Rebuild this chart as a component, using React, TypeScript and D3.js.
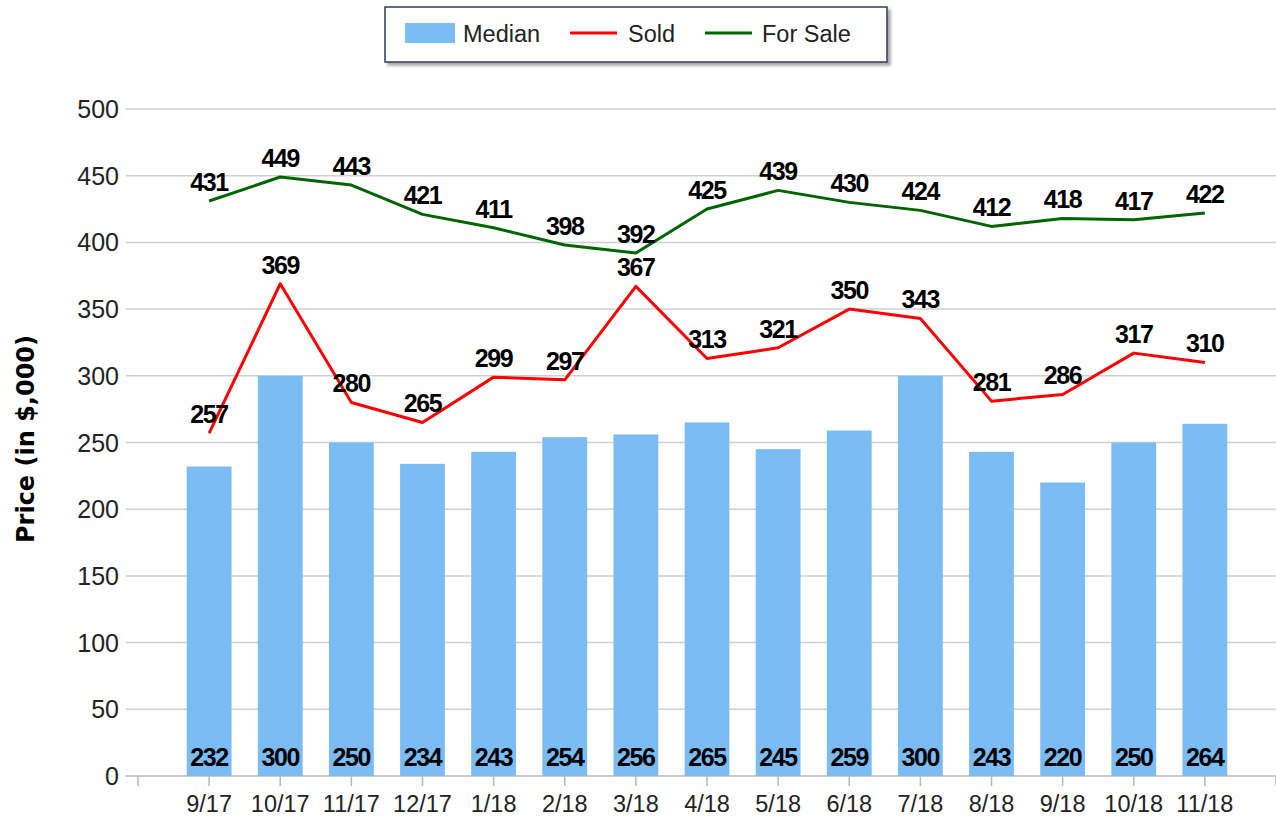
import React from "react";
import * as d3 from "d3";

const categories = ["9/17","10/17","11/17","12/17","1/18","2/18","3/18","4/18","5/18","6/18","7/18","8/18","9/18","10/18","11/18"];
const median = [232,300,250,234,243,254,256,265,245,259,300,243,220,250,264];
const sold = [257,369,280,265,299,297,367,313,321,350,343,281,286,317,310];
const forSale = [431,449,443,421,411,398,392,425,439,430,424,412,418,417,422];
const yTicks = [0,50,100,150,200,250,300,350,400,450,500];

const W = 1276, H = 818;
const FONT = "'Liberation Sans', Arial, sans-serif";

export default function App() {
  const x = d3.scaleLinear().domain([0, 16]).range([138, 1276]);
  const y = d3.scaleLinear().domain([0, 500]).range([776, 109]);
  const step = x(1) - x(0);
  const bw = step * 0.63;
  const line = d3.line<number>().x((_, i) => x(i + 1)).y((d) => y(d));
  const labelStyle: React.CSSProperties = { fontFamily: FONT, fontWeight: "bold", fontSize: 25, letterSpacing: -1.4 };
  return (
    <svg width={W} height={H} style={{ position: "absolute", left: 0, top: 0, background: "#fff" }}>
      <defs>
        <filter id="sh" x="-5%" y="-20%" width="115%" height="160%">
          <feDropShadow dx="3" dy="3" stdDeviation="1.5" floodColor="#000" floodOpacity="0.35" />
        </filter>
      </defs>
      {yTicks.map((t) => (
        <g key={t}>
          <line x1={126} x2={1276} y1={y(t)} y2={y(t)} stroke={t === 0 ? "#b8b8b8" : "#d0d0d0"} strokeWidth={1.5} />
          <text x={119} y={y(t)} dy="0.36em" textAnchor="end" fontFamily={FONT} fontSize={25} fill="#222">{t}</text>
        </g>
      ))}
      {d3.range(0, 17).map((i) => (
        <line key={i} x1={x(i)} x2={x(i)} y1={776} y2={786} stroke="#b8b8b8" strokeWidth={1.5} />
      ))}
      {categories.map((c, i) => (
        <text key={c} x={x(i + 1)} y={812} textAnchor="middle" fontFamily={FONT} fontSize={23.5} fill="#222">{c}</text>
      ))}
      {median.map((v, i) => (
        <rect key={i} x={x(i + 1) - bw / 2} y={y(v)} width={bw} height={y(0) - y(v)} fill="#7cbcf4" />
      ))}
      {median.map((v, i) => (
        <text key={"m" + i} x={x(i + 1)} y={766} textAnchor="middle" style={labelStyle} fill="#000">{v}</text>
      ))}
      <path d={line(sold) || ""} fill="none" stroke="#ff0000" strokeWidth={3} strokeLinejoin="round" />
      <path d={line(forSale) || ""} fill="none" stroke="#006400" strokeWidth={3} strokeLinejoin="round" />
      {sold.map((v, i) => (
        <text key={"s" + i} x={x(i + 1)} y={y(v) - 10} textAnchor="middle" style={labelStyle} fill="#000">{v}</text>
      ))}
      {forSale.map((v, i) => (
        <text key={"f" + i} x={x(i + 1)} y={y(v) - 10} textAnchor="middle" style={labelStyle} fill="#000">{v}</text>
      ))}
      <text transform={`translate(25,439) rotate(-90)`} dy="0.36em" textAnchor="middle" fontFamily="'DejaVu Sans', sans-serif" fontWeight="bold" fontSize={24} fill="#000">Price (in $,000)</text>
      <rect x={385} y={7} width={502} height={55} fill="#fff" stroke="#2c3e5c" strokeWidth={1.5} filter="url(#sh)" />
      <rect x={405} y={23} width={50} height={20} fill="#7cbcf4" />
      <text x={463} y={42} fontFamily={FONT} fontSize={23.5} fill="#222">Median</text>
      <line x1={570} x2={617} y1={33} y2={33} stroke="#ff0000" strokeWidth={3} />
      <text x={628} y={42} fontFamily={FONT} fontSize={23.5} fill="#222">Sold</text>
      <line x1={705} x2={752} y1={33} y2={33} stroke="#006400" strokeWidth={3} />
      <text x={762} y={42} fontFamily={FONT} fontSize={23.5} fill="#222">For Sale</text>
    </svg>
  );
}
